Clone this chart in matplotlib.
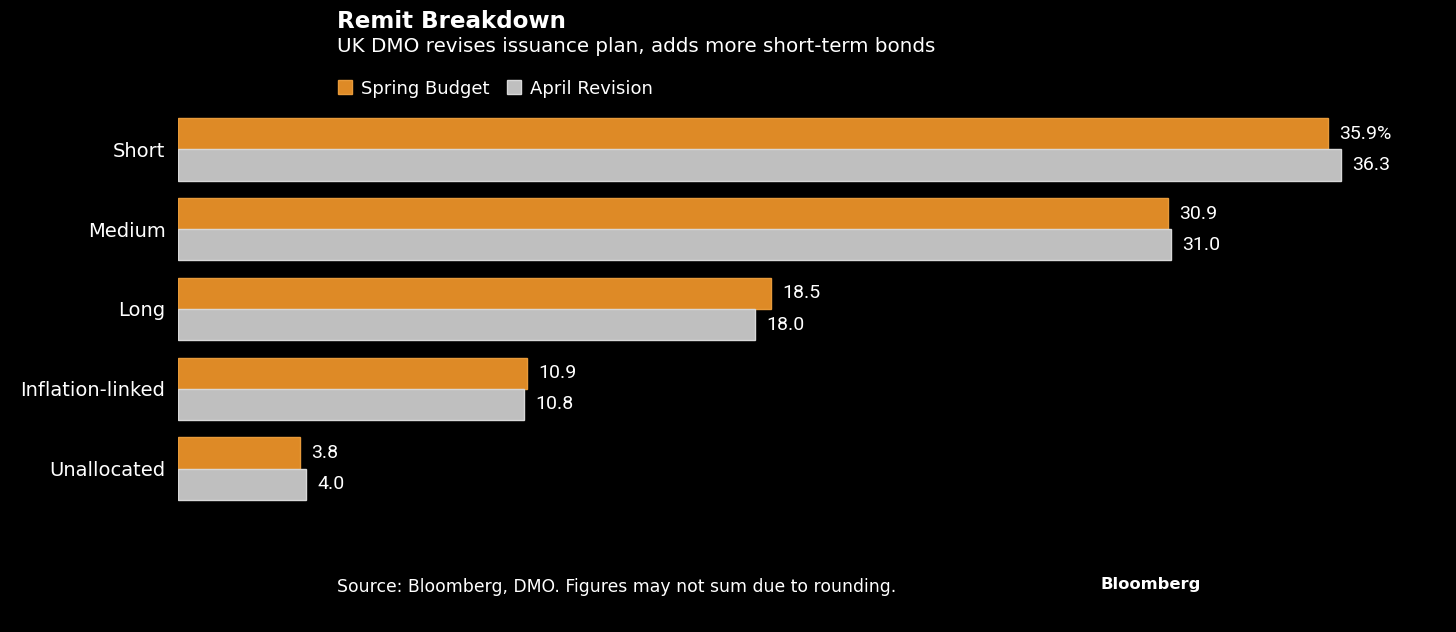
import matplotlib
matplotlib.use("Agg")
import matplotlib.pyplot as plt
import numpy as np

categories = ["Short", "Medium", "Long", "Inflation-linked", "Unallocated"]
spring_budget = [35.9, 30.9, 18.5, 10.9, 3.8]
april_revision = [36.3, 31.0, 18.0, 10.8, 4.0]
spring_labels = ["35.9%", "30.9", "18.5", "10.9", "3.8"]
april_labels = ["36.3", "31.0", "18.0", "10.8", "4.0"]
series_names = ["Spring Budget", "April Revision"]

plt.rcParams["font.family"] = ["DejaVu Sans"]
NUMFONT = ["Roboto", "DejaVu Sans"]

ORANGE = "#DE8A26"
ORANGE_EDGE = "#E89A3A"
GREY = "#BFBFBF"
GREY_EDGE = "#D8D8D8"
BG = "#000000"

W, H = 1456, 632
fig = plt.figure(figsize=(W / 100, H / 100), dpi=100, facecolor=BG)
left, right, top, bottom = 178, 1420, 109.5, 508.5
ax = fig.add_axes([left / W, 1 - bottom / H, (right - left) / W, (bottom - top) / H])
ax.set_facecolor(BG)

scale = 32.04  # px per unit
ax.set_xlim(0, (right - left) / scale)
y = np.arange(len(categories))
ax.set_ylim(len(categories) - 0.5, -0.5)
bh = 0.39

b1 = ax.barh(y - bh / 2, spring_budget, height=bh, color=ORANGE, edgecolor=ORANGE_EDGE, linewidth=1)
b2 = ax.barh(y + bh / 2, april_revision, height=bh, color=GREY, edgecolor=GREY_EDGE, linewidth=1)

for yi, v, lab in zip(y, spring_budget, spring_labels):
    ax.annotate(lab, (v, yi - bh / 2), xytext=(8, 0), textcoords="offset points",
                va="center", ha="left", color="white", fontsize=14, family=NUMFONT)
for yi, v, lab in zip(y, april_revision, april_labels):
    ax.annotate(lab, (v, yi + bh / 2), xytext=(8, 0), textcoords="offset points",
                va="center", ha="left", color="white", fontsize=14, family=NUMFONT)

ax.set_yticks(y)
ax.set_yticklabels(categories, color="white", fontsize=14)
ax.tick_params(axis="y", length=0, pad=9)
ax.set_xticks([])
for s in ax.spines.values():
    s.set_visible(False)

fig.text(337 / W, 1 - 21 / H, "Remit Breakdown", color="white", fontsize=16.6,
         fontweight="bold", va="center", ha="left")
fig.text(337 / W, 1 - 47 / H, "UK DMO revises issuance plan, adds more short-term bonds",
         color="white", fontsize=14.3, va="center", ha="left")

leg = fig.legend([b1, b2], series_names, loc="center left",
                 bbox_to_anchor=(338 / W, 1 - 88.5 / H), ncol=2, frameon=False,
                 borderpad=0, borderaxespad=0,
                 handlelength=0.78, handleheight=0.78, handletextpad=0.5,
                 columnspacing=0.94, fontsize=13, labelcolor="white")

fig.text(337 / W, 1 - 587 / H, "Source: Bloomberg, DMO. Figures may not sum due to rounding.",
         color="white", fontsize=12.4, va="center", ha="left")
fig.text(1101 / W, 1 - 584 / H, "Bloomberg", color="white", fontsize=11.8,
         fontweight="bold", va="center", ha="left")

fig.savefig("out.png", dpi=100, facecolor=BG)
